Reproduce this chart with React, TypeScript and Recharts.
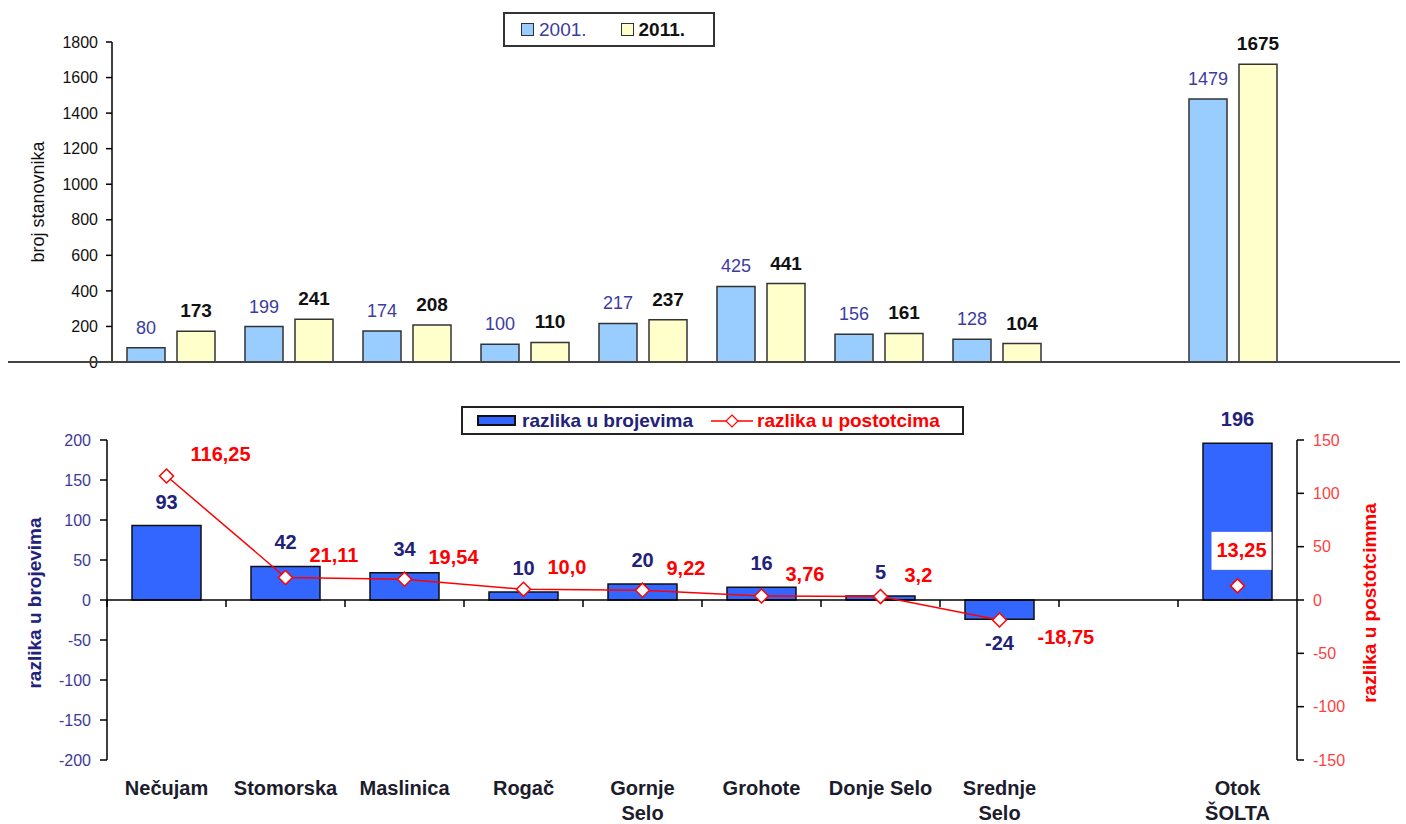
import React from "react"
import { ComposedChart, Bar, Line, XAxis, YAxis, LabelList, ReferenceLine } from "recharts"

// categories (index 8 is the empty gap before the island total)
const places = ["Nečujam", "Stomorska", "Maslinica", "Rogač", "Gornje\nSelo", "Grohote", "Donje  Selo", "Srednje\nSelo", "", "Otok\nŠOLTA"]
const pop2001 = [80, 199, 174, 100, 217, 425, 156, 128, null, 1479]
const pop2011 = [173, 241, 208, 110, 237, 441, 161, 104, null, 1675]
const diffCount = [93, 42, 34, 10, 20, 16, 5, -24, null, 196]
const diffPct = [116.25, 21.11, 19.54, 10.0, 9.22, 3.76, 3.2, -18.75, null, 13.25]
const diffPctText = ["116,25", "21,11", "19,54", "10,0", "9,22", "3,76", "3,2", "-18,75", "", "13,25"]

const popTicks = [0, 200, 400, 600, 800, 1000, 1200, 1400, 1600, 1800]
const countTicks = [-200, -150, -100, -50, 0, 50, 100, 150, 200]
const pctTicks = [-150, -100, -50, 0, 50, 100, 150]

const topData = places.map((name, i) => ({ name, y2001: pop2001[i], y2011: pop2011[i] }))
const bottomData = places.map((name, i) => ({ name, diff: diffCount[i], pct: diffPct[i] }))

const FONT = "'Liberation Sans', Arial, sans-serif"
const NAVY = "#22227a"
const RED = "#ff0000"
const PLOT_H = 320
const BAND = 119

function num(v: any) {
  return v === null || v === undefined ? null : Number(v)
}

function TopLabel(props: any) {
  const { value, bold } = props
  if (value === null || value === undefined) return null
  const vb = props.viewBox || {}
  const x = num(props.x) ?? vb.x
  const y = num(props.y) ?? vb.y
  const w = num(props.width) ?? vb.width
  return (
    <text x={x + w / 2} y={y - 14} textAnchor="middle" fontFamily={FONT} fontSize={bold ? 19 : 18}
      fontWeight={bold ? "bold" : "normal"} fill={bold ? "#111" : "#3c3ca0"}>
      {value}
    </text>
  )
}

function CountLabel(props: any) {
  const { value } = props
  if (value === null || value === undefined) return null
  const vb = props.viewBox || {}
  const x = num(props.x) ?? vb.x
  const y = num(props.y) ?? vb.y
  const w = num(props.width) ?? vb.width
  const h = num(props.height) ?? vb.height
  const top = Math.min(y, y + h)
  const bottom = Math.max(y, y + h)
  const ty = value >= 0 ? top - 17 : bottom + 31
  return (
    <text x={x + w / 2} y={ty} textAnchor="middle" fontFamily={FONT} fontSize={20} fontWeight="bold" fill={NAVY}>
      {value}
    </text>
  )
}

function PctLabel(props: any) {
  const { value } = props
  if (value === null || value === undefined) return null
  const vb = props.viewBox || {}
  const cx = num(props.x) ?? vb.x
  const cy = num(props.y) ?? vb.y
  const idx = props.index ?? diffPct.indexOf(value)
  const txt = diffPctText[idx]
  const common = { fontFamily: FONT, fontSize: 20, fontWeight: "bold" as const, fill: RED }
  if (idx === places.length - 1) {
    return (
      <g>
        <rect x={cx - 26} y={cy - 54} width={60} height={38} fill="#fff" />
        <text x={cx + 4} y={cy - 29} textAnchor="middle" {...common}>{txt}</text>
      </g>
    )
  }
  if (value < 0) {
    return <text x={cx + 38} y={cy + 24} textAnchor="start" {...common}>{txt}</text>
  }
  return <text x={cx + 24} y={cy - 15} textAnchor="start" {...common}>{txt}</text>
}

function Diamond(props: any) {
  const { cx, cy, value } = props
  if (value === null || value === undefined || cx == null || cy == null) return <g key={props.index} />
  const r = 7
  return (
    <polygon key={props.index} points={`${cx},${cy - r} ${cx + r},${cy} ${cx},${cy + r} ${cx - r},${cy}`}
      fill="#fff" stroke={RED} strokeWidth={1.5} />
  )
}

function PlaceTick(props: any) {
  const { x, y, payload } = props
  const lines = String(payload.value).split("\n")
  const zeroY = y - PLOT_H / 2
  return (
    <g>
      <line x1={x - BAND / 2} x2={x - BAND / 2} y1={zeroY} y2={zeroY + 7} stroke="#000" strokeWidth={1.5} />
      <text x={x} y={y + 35} textAnchor="middle" fontFamily={FONT} fontSize={20} fontWeight="bold" fill="#1c1c2c">
        {lines.map((l, i) => (
          <tspan key={i} x={x} dy={i === 0 ? 0 : 25}>{l}</tspan>
        ))}
      </text>
    </g>
  )
}

function VTitle({ x, y, text, color, bold, size }: any) {
  return (
    <div style={{
      position: "absolute", left: x, top: y, transform: "translate(-50%, -50%) rotate(-90deg)",
      whiteSpace: "nowrap", fontFamily: FONT, fontSize: size, fontWeight: bold ? "bold" : "normal", color,
    }}>
      {text}
    </div>
  )
}

export default function App() {
  return (
    <div style={{ position: "absolute", left: 0, top: 0, width: 1406, height: 824, background: "#fff", fontFamily: FONT }}>
      {/* top chart: population */}
      <div style={{ position: "absolute", left: 0, top: 0 }}>
        <ComposedChart width={1406} height={380} data={topData} barGap={12}
          margin={{ top: 42, right: 114, bottom: 18, left: 52 }}>
          <XAxis dataKey="name" hide />
          <YAxis domain={[0, 1800]} ticks={popTicks} width={60} tickSize={6} tickMargin={8}
            axisLine={{ stroke: "#000", strokeWidth: 1.5 }} tickLine={{ stroke: "#000", strokeWidth: 1.5 }}
            tick={{ fill: "#111", fontSize: 16, fontFamily: FONT }} interval={0} />
          <Bar dataKey="y2001" fill="#99ccff" stroke="#333" strokeWidth={1.5} barSize={38} isAnimationActive={false}>
            <LabelList dataKey="y2001" content={(p: any) => <TopLabel {...p} />} />
          </Bar>
          <Bar dataKey="y2011" fill="#ffffcc" stroke="#333" strokeWidth={1.5} barSize={38} isAnimationActive={false}>
            <LabelList dataKey="y2011" content={(p: any) => <TopLabel {...p} bold />} />
          </Bar>
        </ComposedChart>
      </div>
      <div style={{ position: "absolute", left: 8, top: 361, width: 1392, borderTop: "2px solid #444" }} />
      <VTitle x={38} y={202} text="broj stanovnika" color="#111" size={18} />

      {/* top legend */}
      <div style={{
        position: "absolute", left: 503, top: 12, width: 208, height: 31, border: "2px solid #333",
        display: "flex", alignItems: "center", fontFamily: FONT, fontSize: 19,
      }}>
        <span style={{ display: "inline-block", width: 11, height: 11, background: "#99ccff", border: "1.5px solid #333", marginLeft: 16 }} />
        <span style={{ color: "#3c3ca0", marginLeft: 5 }}>2001.</span>
        <span style={{ display: "inline-block", width: 11, height: 11, background: "#ffffcc", border: "1.5px solid #333", marginLeft: 34 }} />
        <span style={{ color: "#111", marginLeft: 5, fontWeight: "bold" }}>2011.</span>
      </div>

      {/* bottom chart: differences */}
      <div style={{ position: "absolute", left: 0, top: 380 }}>
        <ComposedChart width={1406} height={444} data={bottomData}
          margin={{ top: 60, right: 49, bottom: 0, left: 47 }}>
          <XAxis dataKey="name" height={64} axisLine={false} tickLine={false} tickSize={0} tickMargin={0}
            interval={0} tick={(p: any) => <PlaceTick {...p} />} />
          <YAxis yAxisId="left" domain={[-200, 200]} ticks={countTicks} width={60} tickSize={7} tickMargin={9}
            axisLine={{ stroke: "#000", strokeWidth: 1.5 }} tickLine={{ stroke: "#000", strokeWidth: 1.5 }}
            tick={{ fill: "#3a3a9a", fontSize: 16, fontFamily: FONT }} interval={0} />
          <YAxis yAxisId="right" orientation="right" domain={[-150, 150]} ticks={pctTicks} width={60}
            tickSize={7} tickMargin={9}
            axisLine={{ stroke: "#000", strokeWidth: 1.5 }} tickLine={{ stroke: "#000", strokeWidth: 1.5 }}
            tick={{ fill: "#ff4040", fontSize: 16, fontFamily: FONT }} interval={0} />
          <ReferenceLine yAxisId="left" y={0} stroke="#000" strokeWidth={1.5} />
          <Bar yAxisId="left" dataKey="diff" fill="#3366ff" stroke="#111" strokeWidth={1.5} barSize={69}
            isAnimationActive={false}>
            <LabelList dataKey="diff" content={(p: any) => <CountLabel {...p} />} />
          </Bar>
          <Line yAxisId="right" dataKey="pct" stroke={RED} strokeWidth={1.5} connectNulls={false}
            dot={(p: any) => <Diamond key={p.index} {...p} />} activeDot={false} isAnimationActive={false}>
            <LabelList dataKey="pct" content={(p: any) => <PctLabel {...p} />} />
          </Line>
        </ComposedChart>
      </div>
      <VTitle x={35} y={603} text="razlika u brojevima" color={NAVY} bold size={19} />
      <VTitle x={1370} y={603} text="razlika u postotcimma" color={RED} bold size={19} />

      {/* bottom legend */}
      <div style={{
        position: "absolute", left: 461, top: 406, width: 499, height: 25, border: "2px solid #222",
        display: "flex", alignItems: "center", fontFamily: FONT, fontSize: 19, fontWeight: "bold",
      }}>
        <span style={{ display: "inline-block", width: 35, height: 7, background: "#3366ff", border: "2px solid #111", marginLeft: 14 }} />
        <span style={{ color: NAVY, marginLeft: 6 }}>razlika u brojevima</span>
        <svg width={42} height={14} style={{ marginLeft: 18 }}>
          <line x1={0} x2={42} y1={7} y2={7} stroke={RED} strokeWidth={1.5} />
          <polygon points="21,1 27,7 21,13 15,7" fill="#fff" stroke={RED} strokeWidth={1.2} />
        </svg>
        <span style={{ color: RED, marginLeft: 4 }}>razlika u postotcima</span>
      </div>
    </div>
  )
}
